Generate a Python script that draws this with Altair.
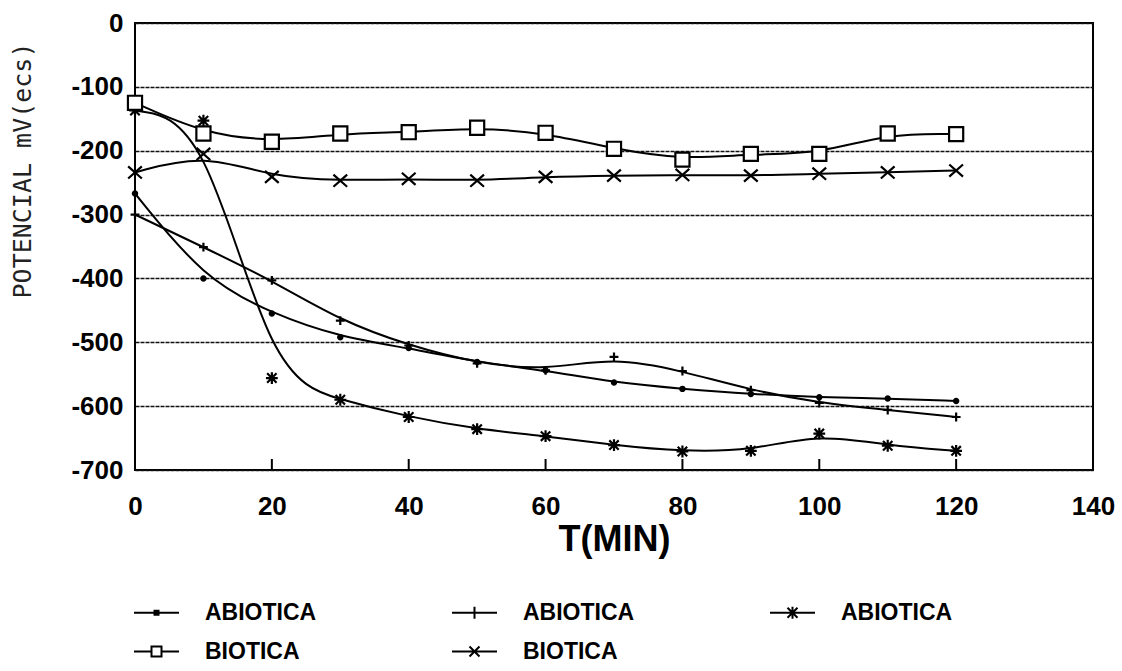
import altair as alt
import pandas as pd

# ---- data ----
t_min = [0, 10, 20, 30, 40, 50, 60, 70, 80, 90, 100, 110, 120]
abiotica_dot = [-267, -400, -455, -492, -509, -531, -544, -563, -573, -581, -586, -588, -592]
abiotica_plus = [-300, -351, -403, -466, -505, -533, -544, -523, -545, -575, -595, -606, -617]
abiotica_star = [-137, -153, -556, -590, -617, -636, -647, -661, -671, -670, -643, -662, -670]
biotica_square = [-125, -173, -186, -173, -171, -164, -172, -197, -214, -205, -205, -173, -174]
biotica_x = [-234, -205, -241, -247, -244, -247, -241, -239, -238, -239, -236, -234, -231]

series_keys = ["ABIOTICA 1", "ABIOTICA 2", "ABIOTICA 3", "BIOTICA 4", "BIOTICA 5"]
series_vals = [abiotica_dot, abiotica_plus, abiotica_star, biotica_square, biotica_x]

x_ticks = [0, 20, 40, 60, 80, 100, 120, 140]
inner_ticks = [20, 40, 60, 80, 100, 120]
y_ticks = [0, -100, -200, -300, -400, -500, -600, -700]

rows = []
for k, vals in zip(series_keys, series_vals):
    for tt, v in zip(t_min, vals):
        rows.append({"t": tt, "v": v, "s": k})
df = pd.DataFrame(rows)
ticks_df = pd.DataFrame({"t": inner_ticks})

W, H = 958, 447

# marker shapes (plot)
P_PLUS = "M-1,0L1,0M0,-1L0,1"
P_STAR = "M0,-1L0,1M-0.8,-0.8L0.8,0.8M-0.8,0.8L0.8,-0.8M-1,0L1,0"
P_X = "M-0.85,-0.75L0.85,0.75M-0.85,0.75L0.85,-0.75"
plot_shapes = ["circle", P_PLUS, P_STAR, "square", P_X]
plot_sizes = [18, 260, 220, 150, 190]
plot_fills = ["black", "white", "white", "white", "white"]

# legend symbols (line through marker)
L_DOT = "M-4.5,0L4.5,0M-0.4,-0.4L0.4,-0.4L0.4,0.4L-0.4,0.4Z"
L_PLUS = "M-4.5,0L4.5,0M0,-1.2L0,1.2"
L_STAR = "M-4.5,0L4.5,0M0,-1.2L0,1.2M-1,-1L1,1M-1,1L1,-1"
L_SQ = "M-4.5,0L-1,0M1,0L4.5,0M-1,-1L1,-1L1,1L-1,1Z"
L_X = "M-4.5,0L4.5,0M-1,-1L1,1M-1,1L1,-1"
legend_shapes = [L_DOT, L_PLUS, L_STAR, L_SQ, L_X]

xs = alt.Scale(domain=[0, 140], nice=False, zero=False)
ys = alt.Scale(domain=[-700, 0], nice=False)

x_enc = alt.X(
    "t:Q", scale=xs,
    axis=alt.Axis(
        values=x_ticks, title="T(MIN)", domain=False, grid=False, ticks=False, tickSize=0,
        labelFont="Liberation Sans", labelFontWeight="bold", labelFontSize=26,
        labelColor="black", labelPadding=23, labelFlush=False,
        titleFont="Liberation Sans", titleFontWeight="bold", titleFontSize=36,
        titleColor="black", titleY=69, titleBaseline="middle",
    ),
)
y_enc = alt.Y(
    "v:Q", scale=ys,
    axis=alt.Axis(
        values=y_ticks, title="POTENCIAL mV(ecs)", domain=False, ticks=False, tickSize=0,
        grid=True, gridColor="#111111", gridDash=[4, 1], gridWidth=1.4,
        labelFont="Liberation Sans", labelFontWeight="bold", labelFontSize=26,
        labelColor="black", labelPadding=12,
        labelExpr="datum.value == 0 ? '0' : '-' + format(abs(datum.value), 'd')",
        titleFont="DejaVu Sans Mono", titleFontWeight="normal", titleFontSize=25,
        titleColor="#222", titleX=-113, titleY=147, titleAlign="center",
        titleBaseline="middle", titleAngle=-90,
    ),
)

lines = alt.Chart(df).mark_line(interpolate="basis", color="black", strokeWidth=2).encode(
    x=x_enc, y=y_enc, detail="s:N"
)

points = alt.Chart(df).mark_point(filled=True, stroke="black", strokeWidth=2.2, opacity=1).encode(
    x=alt.X("t:Q", scale=xs),
    y=alt.Y("v:Q", scale=ys),
    shape=alt.Shape("s:N", scale=alt.Scale(domain=series_keys, range=plot_shapes), legend=None),
    size=alt.Size("s:N", scale=alt.Scale(domain=series_keys, range=plot_sizes), legend=None),
    fill=alt.Fill("s:N", scale=alt.Scale(domain=series_keys, range=plot_fills), legend=None),
)

legend_layer = alt.Chart(df).transform_filter("false").mark_point(
    filled=False, color="black", strokeWidth=2
).encode(
    x=alt.X("t:Q", scale=xs),
    y=alt.Y("v:Q", scale=ys),
    shape=alt.Shape(
        "s:N",
        scale=alt.Scale(domain=series_keys, range=legend_shapes),
        legend=alt.Legend(
            title=None, orient="none", legendX=10, legendY=578, columns=3,
            direction="horizontal", padding=0, symbolSize=100, symbolStrokeWidth=2,
            symbolStrokeColor="black", symbolFillColor="transparent", symbolOpacity=1,
            labelOffset=37, columnPadding=131, rowPadding=15,
            labelFont="Liberation Sans", labelFontWeight="bold", labelFontSize=23,
            labelColor="black", labelExpr="split(datum.label, ' ')[0]",
            labelLimit=300,
        ),
    ),
)

tick_rules = alt.Chart(ticks_df).mark_rule(color="black", strokeWidth=2).encode(
    x=alt.X("t:Q", scale=xs), y=alt.value(H), y2=alt.value(H - 11)
)

chart = (
    alt.layer(lines, tick_rules, points, legend_layer)
    .resolve_scale(shape="independent")
    .properties(
        width=W, height=H,
        autosize=alt.AutoSizeParams(type="none"),
        padding={"left": 135, "top": 23, "right": 29, "bottom": 201},
        background="white",
    )
    .configure_view(stroke="black", strokeWidth=2)
)

chart.save("out.html", embed_options={"renderer": "svg", "actions": False})
